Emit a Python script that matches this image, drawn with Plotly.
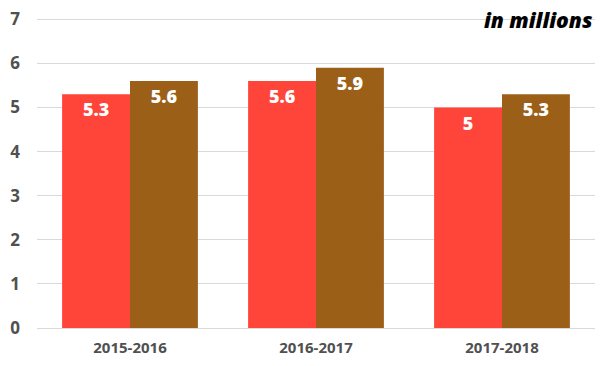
import plotly.graph_objects as go

categories = ["2015-2016", "2016-2017", "2017-2018"]
series_a = [5.3, 5.6, 5.0]
series_b = [5.6, 5.9, 5.3]
labels_a = ["5.3", "5.6", "5"]
labels_b = ["5.6", "5.9", "5.3"]
y_ticks = [0, 1, 2, 3, 4, 5, 6, 7]

FONT = "Open Sans"
fig = go.Figure()
for vals, labs, color in [(series_a, labels_a, "#FF453A"), (series_b, labels_b, "#9B5F18")]:
    fig.add_trace(go.Bar(
        x=categories, y=vals, text=labs, marker=dict(color=color, line=dict(width=0)),
        textposition="inside", insidetextanchor="end", textangle=0,
        textfont=dict(family=FONT, size=18, color="white", weight=800),
        hoverinfo="skip", showlegend=False,
    ))

fig.update_layout(
    width=610, height=366,
    margin=dict(l=37, r=15, t=18, b=38, autoexpand=False),
    barmode="group", bargap=0.27, bargroupgap=0,
    plot_bgcolor="white", paper_bgcolor="white",
    uniformtext=dict(mode=False),
    xaxis=dict(showgrid=False, showline=False, ticks="", ticklabelstandoff=9, automargin=False,
               tickfont=dict(family=FONT, size=15, color="#505050", weight="bold")),
    yaxis=dict(range=[0, 7.03], tickvals=y_ticks, showgrid=True, gridcolor="#D9D9D9", gridwidth=1,
               zeroline=True, zerolinecolor="#D9D9D9", zerolinewidth=1, showline=False, ticks="",
               ticklabelstandoff=16, automargin=False,
               tickfont=dict(family=FONT, size=17, color="#505050", weight="bold")),
    annotations=[dict(text="in millions", xref="paper", yref="paper", x=1, y=0.993,
                      xanchor="right", yanchor="middle", showarrow=False,
                      font=dict(family=FONT, size=21, color="black", weight=800, style="italic"))],
)
fig.write_html("out.html", config={"displayModeBar": False},
               post_script="document.body.style.margin='0';document.body.style.overflow='hidden';")
